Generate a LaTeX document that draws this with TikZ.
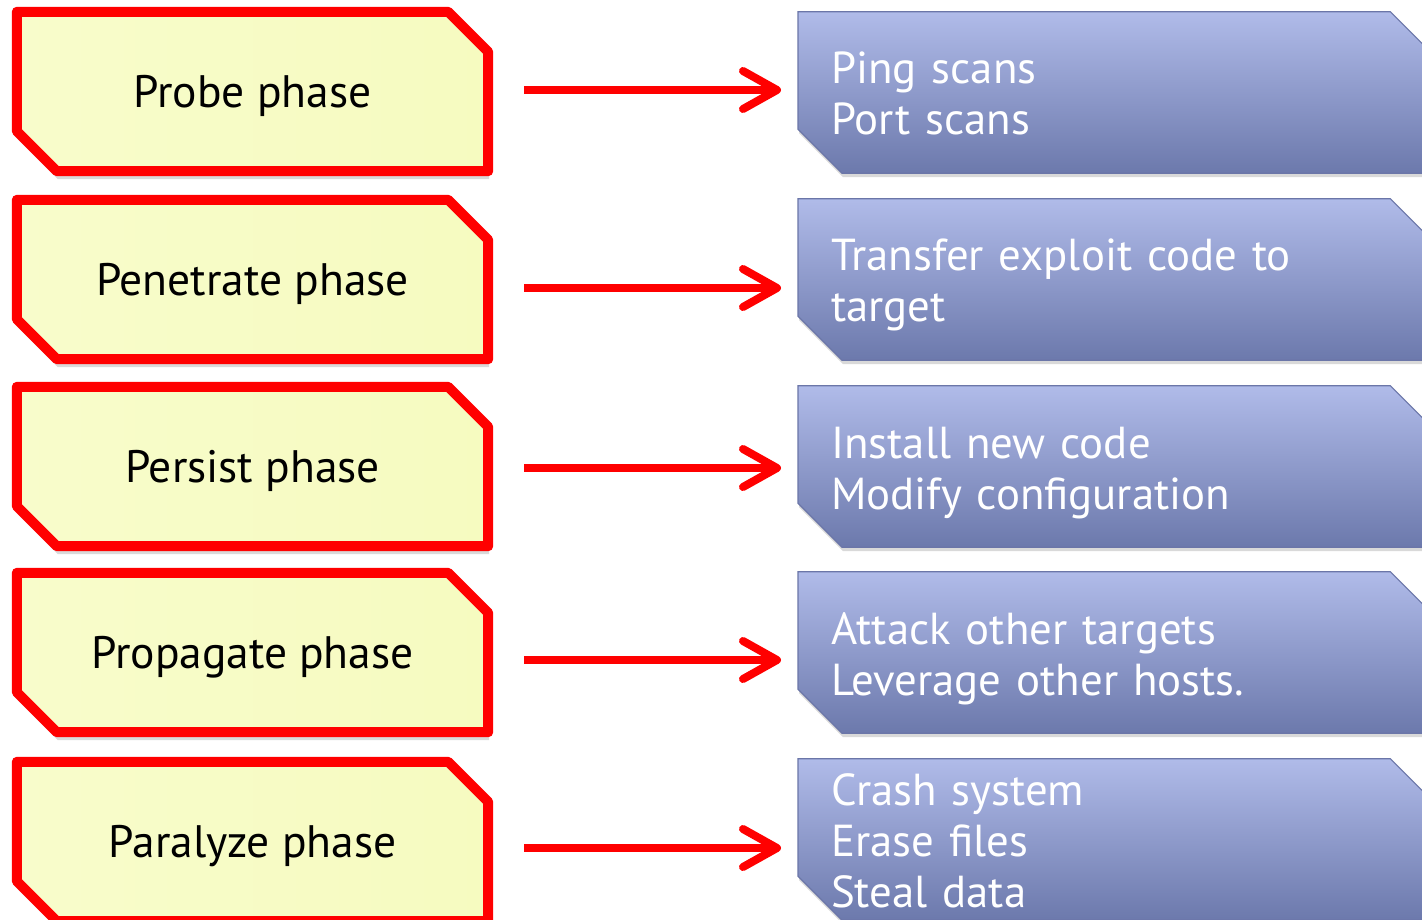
\documentclass[tikz,border=0pt]{standalone}
\usepackage{fontspec}
\setmainfont{PT Sans}
\usetikzlibrary{arrows.meta,calc,backgrounds,shadows}
\definecolor{phasered}{HTML}{FF0000}
\definecolor{phaseleft}{HTML}{F8FCCB}
\definecolor{phasemid}{HTML}{F2FB97}
\definecolor{phaseright}{HTML}{F6FBC0}
\definecolor{acttop}{HTML}{B0BBE9}
\definecolor{actbottom}{HTML}{6C79AC}
\definecolor{actedge}{HTML}{6B76A8}
% fixed first-line height and last-line depth, so every block centres the same way
\newcommand\topstrut{\rule{0pt}{46pt}}
\newcommand\botstrut{\rule[-12pt]{0pt}{12pt}}
\begin{document}
\begin{tikzpicture}[x=1pt,y=-1pt,
  phasebox/.style={minimum width=471pt, minimum height=159pt, inner sep=0pt,
    text height=32pt, text depth=0pt,
    font=\fontsize{45.5}{51}\selectfont, text=black},
  actbox/.style={anchor=west, minimum width=636pt, minimum height=161pt,
    text width=570pt, align=left, inner sep=0pt,
    font=\fontsize{44.8}{51}\selectfont, text=white},
  phaseshape/.style={draw=phasered, line width=10pt, line join=round,
    left color=phaseleft, middle color=phasemid, right color=phaseright,
    drop shadow={shadow xshift=1pt, shadow yshift=-8pt, opacity=.15, fill=black}},
  actshape/.style={draw=actedge, line width=1.2pt,
    top color=acttop, bottom color=actbottom,
    drop shadow={shadow xshift=1pt, shadow yshift=-4pt, opacity=.15, fill=black}},
  flow/.style={draw=phasered, line width=8pt,
    -{Straight Barb[length=34pt, width=38pt, round]}}
]
\useasboundingbox (0,0) rectangle (1422,920);

% phase labels (left column)
\foreach \i/\t/\txt in {1/7/Probe phase, 2/195/Penetrate phase,
    3/382/Persist phase, 4/568/Propagate phase, 5/757/Paralyze phase}{
  \node[phasebox] (L\i) at (252.5,\t+84.5) {\txt};
}

% activity descriptions (right column)
\foreach \i/\t/\txt in {1/12/{Ping scans\\Port scans},
    2/199/{Transfer exploit code to\\target},
    3/386/{Install new code\\Modify configuration},
    4/572/{Attack other targets\\Leverage other hosts.},
    5/759/{Crash system\\Erase files\\Steal data}}{
  \node[actbox] (R\i) at (798,\t+80.5) {\topstrut\txt\botstrut};
}

% white page and snipped-corner outlines behind the texts
\begin{scope}[on background layer]
  \fill[white] (0,0) rectangle (1422,920);
  \clip (0,0) rectangle (1422,920);
  \foreach \i in {1,...,5}{
    \path[phaseshape] (L\i.north west) -- ($(L\i.north east)+(-40,0)$)
      -- ($(L\i.north east)+(0,40)$) -- (L\i.south east)
      -- ($(L\i.south west)+(40,0)$) -- ($(L\i.south west)+(0,-40)$) -- cycle;
    \path[actshape] (R\i.north west) -- ($(R\i.north east)+(-44,0)$)
      -- ($(R\i.north east)+(0,44)$) -- (R\i.south east)
      -- ($(R\i.south west)+(44,0)$) -- ($(R\i.south west)+(0,-44)$) -- cycle;
  }
\end{scope}

% arrows from each phase to its activities
\foreach \i/\dy in {1/-1.5, 2/8.5, 3/1.5, 4/7.5, 5/6.5}{
  \coordinate (s\i) at ($(L\i.east)+(36,\dy)$);
  \draw[flow] (s\i) -- ($(R\i.west |- s\i)+(-17,0)$);
}
\end{tikzpicture}
\end{document}
